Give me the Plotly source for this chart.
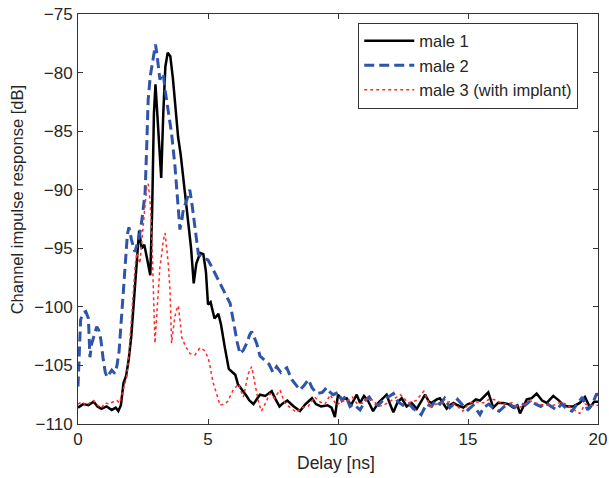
import plotly.graph_objects as go

# male 1 (solid black)
male1_x = [0.0, 0.2, 0.4, 0.6, 0.75, 0.9, 1.1, 1.3, 1.45, 1.55, 1.65, 1.75, 1.85, 1.95, 2.05,
           2.15, 2.25, 2.35, 2.45, 2.55, 2.65, 2.78, 2.85, 2.92, 2.98, 3.05, 3.12, 3.2, 3.28,
           3.36, 3.45, 3.55, 3.65, 3.75, 3.85, 3.95, 4.05, 4.15, 4.25, 4.35, 4.45, 4.55, 4.7,
           4.82, 4.92, 5.0, 5.1, 5.25, 5.4, 5.5, 5.65, 5.8, 5.95, 6.05, 6.15, 6.3, 6.45, 6.6,
           6.75, 6.9, 7.0, 7.2, 7.45, 7.6, 7.75, 7.9, 8.05, 8.3, 8.54, 8.75, 9.0, 9.15, 9.35,
           9.6, 9.75, 9.88, 10.0, 10.15, 10.33, 10.5, 10.72, 10.85, 11.0, 11.15, 11.35, 11.55,
           11.7, 11.87, 12.0, 12.13, 12.3, 12.45, 12.64, 12.83, 13.03, 13.2, 13.35, 13.5, 13.6,
           13.8, 13.92, 14.18, 14.3, 14.44, 14.6, 14.82, 15.0, 15.14, 15.3, 15.46, 15.65, 15.78,
           15.97, 16.15, 16.36, 16.55, 16.74, 16.9, 17.0, 17.26, 17.45, 17.64, 17.85, 18.03,
           18.28, 18.5, 18.67, 18.85, 19.05, 19.3, 19.5, 19.69, 19.85, 20.0]
male1_y = [-108.6, -108.3, -108.4, -108.1, -108.5, -108.7, -108.5, -108.8, -108.6, -108.9,
           -108.4, -106.5, -105.9, -104.5, -102.5, -99.5, -96.5, -93.5, -95.0, -94.7, -95.8,
           -97.3, -92.0, -83.5, -81.0, -83.5, -86.5, -89.0, -83.5, -79.5, -78.3, -78.6, -80.5,
           -83.0, -85.5, -87.0, -89.0, -90.5, -92.5, -95.0, -98.0, -96.3, -95.4, -95.5, -97.0,
           -99.8, -99.6, -101.0, -100.6, -101.5, -103.5, -105.3, -105.6, -105.8, -106.6, -107.0,
           -107.5, -108.0, -108.3, -107.8, -107.5, -107.6, -107.2, -107.9, -108.5, -108.2,
           -108.0, -108.5, -108.9, -108.3, -107.8, -108.3, -108.5, -108.4, -108.6, -109.4,
           -107.5, -107.9, -107.8, -108.4, -107.5, -108.2, -107.6, -108.0, -108.9, -108.2,
           -107.9, -107.5, -108.3, -109.0, -108.1, -107.8, -108.5, -108.2, -108.7, -108.0,
           -107.5, -108.1, -108.2, -107.9, -107.8, -108.7, -108.4, -108.2, -108.4, -108.6,
           -108.3, -108.2, -107.9, -108.0, -107.6, -107.3, -108.6, -108.2, -108.2, -108.3,
           -108.6, -108.4, -109.1, -107.9, -107.8, -107.4, -108.0, -108.2, -107.6, -108.0,
           -108.4, -108.5, -108.5, -108.2, -107.7, -108.6, -108.1, -108.1]

# male 2 (dashed blue)
male2_x = [0.0, 0.05, 0.1, 0.2, 0.3, 0.4, 0.46, 0.52, 0.6, 0.72, 0.8, 0.88, 0.97, 1.05, 1.12,
           1.2, 1.3, 1.42, 1.5, 1.58, 1.68, 1.75, 1.82, 1.9, 1.96, 2.06, 2.19, 2.28, 2.36, 2.45,
           2.52, 2.58, 2.64, 2.7, 2.78, 2.85, 2.92, 2.98, 3.04, 3.09, 3.15, 3.22, 3.28, 3.35,
           3.47, 3.6, 3.73, 3.82, 3.92, 4.0, 4.05, 4.18, 4.3, 4.4, 4.5, 4.63, 4.82, 5.0, 5.1,
           5.33, 5.45, 5.59, 5.75, 5.85, 6.0, 6.12, 6.23, 6.36, 6.49, 6.6, 6.68, 6.78, 6.87,
           7.0, 7.19, 7.35, 7.5, 7.64, 7.8, 8.03, 8.22, 8.4, 8.54, 8.7, 8.86, 9.0, 9.18, 9.4,
           9.56, 9.7, 9.82, 10.0, 10.15, 10.3, 10.46, 10.6, 10.85, 11.05, 11.2, 11.36, 11.55,
           11.8, 12.0, 12.13, 12.3, 12.5, 12.7, 12.9, 13.05, 13.2, 13.4, 13.6, 13.75, 13.92,
           14.1, 14.3, 14.45, 14.6, 14.8, 15.0, 15.2, 15.46, 15.6, 15.8, 16.0, 16.2, 16.4, 16.6,
           16.8, 17.0, 17.2, 17.4, 17.6, 17.8, 18.0, 18.2, 18.4, 18.6, 18.8, 19.0, 19.2, 19.4,
           19.6, 19.8, 19.95, 20.0]
male2_y = [-106.8, -103.5, -101.1, -100.5, -100.4, -101.0, -104.3, -103.2, -102.6, -101.7,
           -102.0, -102.8, -104.5, -105.6, -106.0, -105.7, -105.4, -105.7, -105.0, -103.8,
           -100.6, -98.0, -96.2, -93.8, -93.2, -94.3, -95.3, -94.5, -94.0, -92.7, -91.5, -90.3,
           -86.5, -82.3, -80.3, -79.4, -78.2, -77.6, -78.5, -79.5, -80.6, -80.2, -80.1, -81.5,
           -83.2, -85.2, -88.0, -90.8, -93.4, -92.5, -91.7, -90.9, -90.0, -91.5, -93.4, -95.5,
           -95.8, -96.0, -96.4, -97.4, -97.9, -98.6, -99.2, -99.7, -101.5, -103.0, -104.0,
           -103.7, -103.1, -102.4, -102.1, -102.6, -103.1, -104.2, -104.6, -104.9, -105.6,
           -105.1, -105.6, -105.2, -106.2, -106.7, -107.1, -106.7, -106.2, -106.9, -107.4,
           -107.3, -106.9, -107.3, -107.5, -107.3, -108.0, -107.6, -108.5, -108.3, -108.8,
           -108.0, -107.7, -108.2, -108.4, -107.8, -107.6, -107.4, -108.1, -108.4, -108.2,
           -108.7, -108.9, -109.2, -108.3, -108.5, -108.0, -108.3, -107.8, -108.6, -108.3,
           -107.9, -108.4, -108.8, -108.4, -109.2, -108.6, -108.3, -108.7, -108.9, -108.5,
           -108.3, -108.6, -108.2, -108.4, -108.0, -108.3, -108.5, -108.2, -108.5, -108.8,
           -108.3, -108.7, -108.9, -108.3, -107.7, -108.8, -108.2, -107.4, -107.6]

# male 3 with implant (dotted red)
male3_x = [0.0, 0.15, 0.3, 0.45, 0.6, 0.75, 0.9, 1.05, 1.2, 1.35, 1.5, 1.6, 1.7, 1.8, 1.87,
           1.95, 2.0, 2.07, 2.13, 2.2, 2.26, 2.32, 2.38, 2.45, 2.51, 2.58, 2.64, 2.7, 2.77,
           2.83, 2.9, 2.96, 3.02, 3.09, 3.15, 3.22, 3.28, 3.35, 3.41, 3.47, 3.54, 3.6, 3.67,
           3.73, 3.8, 3.86, 3.93, 3.99, 4.12, 4.31, 4.5, 4.69, 4.85, 5.0, 5.08, 5.2, 5.33,
           5.46, 5.6, 5.75, 5.97, 6.17, 6.36, 6.55, 6.68, 6.8, 6.93, 7.05, 7.13, 7.38, 7.55,
           7.77, 7.95, 8.1, 8.4, 8.6, 8.85, 9.1, 9.3, 9.5, 9.7, 9.95, 10.15, 10.3, 10.55, 10.75,
           10.97, 11.15, 11.36, 11.55, 11.75, 12.05, 12.4, 12.7, 13.0, 13.3, 13.55, 13.8, 14.0,
           14.3, 14.55, 14.8, 15.05, 15.3, 15.6, 15.8, 16.0, 16.35, 16.7, 16.9, 17.1, 17.35,
           17.6, 17.95, 18.3, 18.6, 18.95, 19.3, 19.5, 19.69, 20.0]
male3_y = [-108.3, -108.1, -108.4, -108.2, -108.0, -108.4, -108.6, -108.2, -108.3, -108.1,
           -108.0, -108.2, -107.3, -106.6, -106.0, -104.3, -102.8, -100.5, -98.3, -96.5, -95.4,
           -95.9, -96.3, -94.5, -92.9, -91.0, -89.8, -89.5, -90.9, -93.4, -97.7, -103.1,
           -101.0, -98.6, -96.6, -95.5, -94.3, -93.7, -95.0, -96.3, -98.6, -103.1, -101.8,
           -100.8, -100.2, -99.9, -101.3, -102.6, -103.3, -104.0, -104.1, -103.5, -103.7,
           -104.3, -105.1, -106.5, -107.4, -108.4, -108.3, -108.1, -107.1, -106.6, -107.7,
           -105.7, -105.1, -106.6, -108.0, -108.9, -108.6, -107.4, -107.8, -107.1, -108.2,
           -108.5, -109.0, -108.6, -108.5, -107.7, -108.1, -108.3, -107.5, -108.4, -108.0,
           -108.1, -107.7, -108.3, -108.2, -107.8, -108.0, -108.5, -108.4, -108.0, -107.5,
           -108.2, -108.0, -107.2, -108.5, -108.3, -108.2, -108.1, -108.4, -108.9, -108.2,
           -108.1, -108.2, -107.9, -107.9, -108.3, -108.2, -108.6, -108.5, -108.0, -108.2,
           -108.4, -108.4, -108.1, -108.6, -109.1, -108.3, -108.4, -108.4]

x_ticks = [0, 5, 10, 15, 20]
y_ticks = [-75, -80, -85, -90, -95, -100, -105, -110]

font_family = "Liberation Sans, Arial, sans-serif"
text_color = "#262626"

fig = go.Figure()

fig.add_trace(go.Scatter(
    x=male1_x, y=male1_y, mode='lines', name='male 1', legendgroup='m1',
    line=dict(color='black', width=2.5)
))
fig.add_trace(go.Scatter(
    x=male2_x, y=male2_y, mode='lines', name='male 2', legendgroup='m2',
    line=dict(color='#2f55a8', width=3, dash='10px,5px')
))
fig.add_trace(go.Scatter(
    x=male3_x, y=male3_y, mode='lines', name='male 3 (with implant)', legendgroup='m3',
    line=dict(color='#ff2a2a', width=1.5, dash='dot')
))

axis_style = dict(
    showgrid=False, zeroline=False, automargin=False,
    showline=True, linecolor='#333333', linewidth=1, mirror='ticks',
    ticks='inside', ticklen=5, tickcolor='#333333', ticklabeloverflow='allow',
    tickfont=dict(family=font_family, size=17, color=text_color),
)

fig.update_layout(
    width=609, height=478,
    margin=dict(l=78, r=11, t=14, b=54),
    paper_bgcolor='white', plot_bgcolor='white',
    font=dict(family=font_family, color=text_color),
    xaxis=dict(range=[0, 20], tickvals=x_ticks, ticklabelstandoff=0, **axis_style),
    yaxis=dict(range=[-110, -75], tickvals=y_ticks, ticklabelstandoff=1, **axis_style),
    legend=dict(
        x=0.962, y=0.979, xanchor='right', yanchor='top',
        bgcolor='white', bordercolor='#333333', borderwidth=1,
        font=dict(family=font_family, size=16.5, color=text_color),
        traceorder='grouped', tracegroupgap=0, itemwidth=50,
    ),
)

# axis titles placed where the reference has them
fig.add_annotation(
    text='Delay [ns]', xref='paper', yref='paper', x=0.496, y=-0.095,
    xanchor='center', yanchor='middle', showarrow=False,
    font=dict(family=font_family, size=17.5, color=text_color)
)
fig.add_annotation(
    text='Channel impulse response [dB]', xref='paper', yref='paper', x=-0.117, y=0.546,
    xanchor='center', yanchor='middle', textangle=-90, showarrow=False,
    font=dict(family=font_family, size=16.5, color=text_color)
)

# drop the browser's default 8px body margin so the figure fills the window
fig.write_html(
    "out.html",
    config={'displayModeBar': False},
    post_script="document.body.style.margin = '0';"
)
